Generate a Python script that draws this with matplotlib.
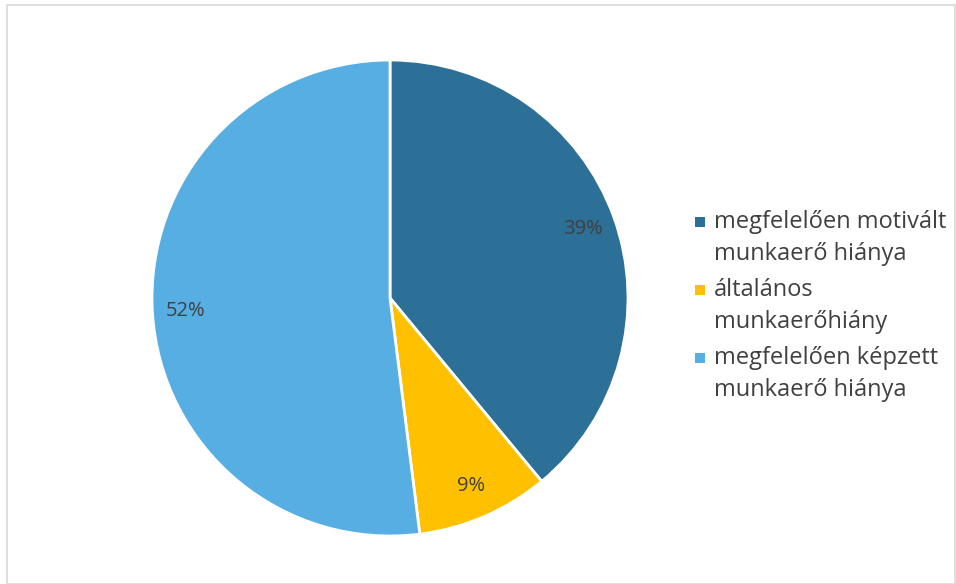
import matplotlib
matplotlib.use("Agg")
import matplotlib.pyplot as plt
from matplotlib.patches import Rectangle

plt.rcParams['font.family'] = ['Open Sans', 'DejaVu Sans']

categories = ["megfelelően motivált\nmunkaerő hiánya",
              "általános\nmunkaerőhiány",
              "megfelelően képzett\nmunkaerő hiánya"]
values = [39, 9, 52]
colors = ["#2C6F97", "#FFC000", "#56AEE2"]
text_color = "#404040"

W, H = 956, 584
fig = plt.figure(figsize=(W / 100, H / 100), dpi=100)
fig.patches.append(Rectangle((7 / W, 0 / H), (W - 8) / W, (H - 5) / H,
                             transform=fig.transFigure, fill=False,
                             edgecolor="#D9D9D9", linewidth=1.2))

cx, cy, r = 390, 298, 238
ax = fig.add_axes([(cx - r) / W, (H - cy - r) / H, 2 * r / W, 2 * r / H])
wedges, texts, autotexts = ax.pie(values, colors=colors, startangle=90, counterclock=False,
                                  radius=1, autopct="%d%%", pctdistance=0.86,
                                  wedgeprops=dict(edgecolor="white", linewidth=2),
                                  textprops=dict(color=text_color, fontsize=14.5))
ax.set_xlim(-1.0, 1.0)
ax.set_ylim(-1.0, 1.0)

# manual legend (marker aligned with first line of each entry)
first_center = 222
line_gap = 32
item_gap = 68
fs = 17
for i, (lab, col) in enumerate(zip(categories, colors)):
    yc = first_center + i * item_gap
    fig.patches.append(Rectangle((695 / W, 1 - (yc + 5) / H), 10 / W, 10 / H,
                                 transform=fig.transFigure, facecolor=col,
                                 edgecolor="none"))
    for j, line in enumerate(lab.split("\n")):
        yb = yc + j * line_gap + 6.5
        fig.text(714 / W, 1 - yb / H, line, fontsize=fs, color=text_color,
                 ha="left", va="baseline")

fig.savefig("out.png", dpi=100)
